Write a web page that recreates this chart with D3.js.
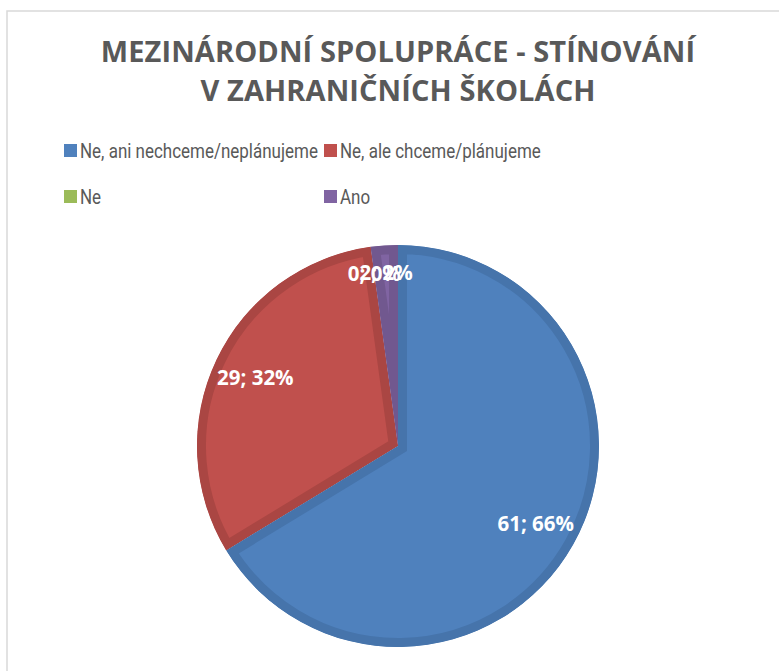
<!DOCTYPE html>
<html><head><meta charset="utf-8">
<script src="https://cdn.jsdelivr.net/npm/d3@7"></script>
<style>body{margin:0;background:#fff}svg{display:block}</style>
</head><body><svg id="c" width="779" height="671"></svg>
<script>
const titleLines = ["MEZINÁRODNÍ SPOLUPRÁCE - STÍNOVÁNÍ", "V ZAHRANIČNÍCH ŠKOLÁCH"];
const categories = ["Ne, ani nechceme/neplánujeme", "Ne, ale chceme/plánujeme", "Ne", "Ano"];
const values = [61, 29, 0, 2];
const fillColors = ["#4F81BD", "#C0504D", "#9BBB59", "#8064A2"];
const borderColors = ["#4674AB", "#AA4643", "#8AA64F", "#71588F"];

const svg = d3.select("#c");
const total = d3.sum(values);
const data = categories.map((c, i) => ({cat: c, value: values[i], pct: Math.round(values[i] / total * 100), i}));

// frame
svg.append("rect").attr("x", 7).attr("y", 11).attr("width", 900).attr("height", 900)
  .attr("fill", "none").attr("stroke", "#d9d9d9").attr("stroke-width", 1.5);

// title
svg.append("g").selectAll("text").data(titleLines).join("text")
  .attr("x", 398).attr("y", (d, i) => 62 + i * 39)
  .attr("text-anchor", "middle")
  .attr("font-family", "'Open Sans', sans-serif").attr("font-weight", 700)
  .attr("font-size", 29).attr("letter-spacing", 0.1).attr("fill", "#595959")
  .text(d => d);

// legend
const legPos = [[64, 144], [324, 144], [64, 190], [324, 190]];
const leg = svg.append("g").selectAll("g").data(data).join("g")
  .attr("transform", (d, i) => `translate(${legPos[i][0]},${legPos[i][1]})`);
leg.append("rect").attr("width", 13).attr("height", 13).attr("fill", d => fillColors[d.i]);
const legText = leg.append("text")
  .attr("font-family", "Roboto, sans-serif").attr("font-size", 20.5)
  .attr("fill", "#595959").text(d => d.cat);
const w0 = legText.node().getComputedTextLength();
const sx = Math.min(1, 238 / w0);
legText.attr("transform", `translate(16,14) scale(${sx},1)`);

// pie
const cx = 398, cy = 446, R = 201;
const pie = d3.pie().sort(null).value(d => d.value);
const arcs = pie(data);
const arc = d3.arc().innerRadius(0).outerRadius(R);
const g = svg.append("g").attr("transform", `translate(${cx},${cy})`);
const defs = svg.append("defs");
arcs.forEach((a, k) => {
  defs.append("clipPath").attr("id", "clip" + k).append("path").attr("d", arc(a));
});
const order = [1, 2, 3, 0];
order.forEach(k => {
  const a = arcs[k];
  if (a.endAngle - a.startAngle <= 0) return;
  g.append("path").attr("d", arc(a)).attr("fill", fillColors[k])
    .attr("stroke", borderColors[k]).attr("stroke-width", 18)
    .attr("stroke-linejoin", "miter")
    .attr("clip-path", `url(#clip${k})`);
});

// labels
g.selectAll("text.lbl").data(arcs).join("text").attr("class", "lbl")
  .attr("transform", d => {
    const lr = (d.endAngle - d.startAngle) < 0.3 ? 174 : 158;
    const c = d3.arc().innerRadius(lr).outerRadius(lr).centroid(d);
    return `translate(${c[0]},${c[1]})`;
  })
  .attr("text-anchor", "middle").attr("dy", "0.35em")
  .attr("font-family", "'Open Sans', sans-serif").attr("font-weight", 700)
  .attr("font-size", 20.5).attr("fill", "#fff")
  .text(d => `${d.data.value}; ${d.data.pct}%`);
</script>
</body></html>
